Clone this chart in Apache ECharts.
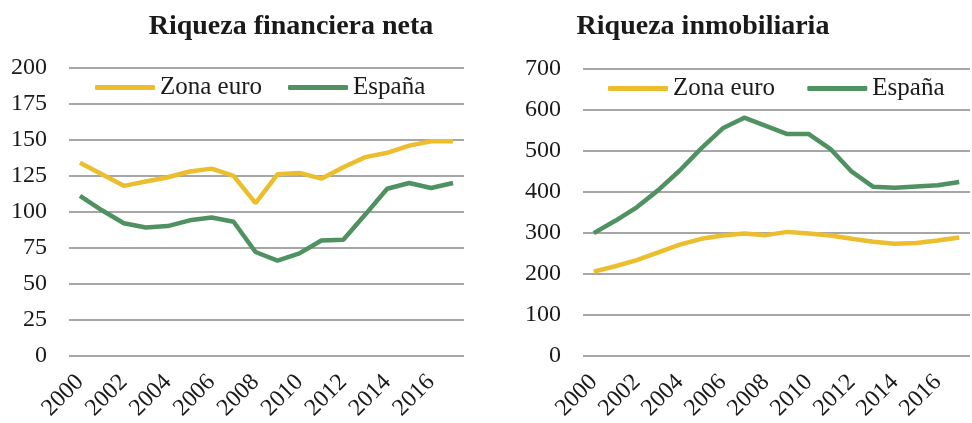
<!DOCTYPE html>
<html>
<head>
<meta charset="utf-8">
<script src="https://cdn.jsdelivr.net/npm/echarts@6/dist/echarts.min.js"></script>
<style>
  html, body { margin: 0; padding: 0; background: #fff; }
  #chart { width: 972px; height: 423px; }
</style>
</head>
<body>
<div id="chart"></div>
<script>
var years = ["2000", "2001", "2002", "2003", "2004", "2005", "2006", "2007", "2008",
  "2009", "2010", "2011", "2012", "2013", "2014", "2015", "2016", "2017"];

// Riqueza financiera neta
var financieraZonaEuro = [134, 126, 118, 121, 124, 128, 130, 125, 106, 126, 127, 123, 131, 138, 141, 146, 149, 149];
var financieraEspana = [111, 101, 92, 89, 90, 94, 96, 93, 72, 66, 71, 80, 80.5, 98, 116, 120, 116.5, 120];

// Riqueza inmobiliaria
var inmobiliariaZonaEuro = [205, 218, 233, 252, 271, 285, 293, 298, 294, 302, 298, 293, 285, 278, 273, 275, 281, 288];
var inmobiliariaEspana = [299, 329, 362, 404, 452, 506, 555, 581, 561, 541, 541, 505, 449, 412, 410, 413, 416, 424];

var amarillo = "#ECBD2C";
var verde = "#4F9160";
var serif = "Liberation Serif, Times New Roman, serif";

var myChart = echarts.init(document.getElementById("chart"));

function xAxisDe(gridIndex) {
  return {
    type: "category",
    gridIndex: gridIndex,
    data: years,
    boundaryGap: true,
    axisTick: { show: false },
    axisLine: { show: false },
    axisLabel: {
      interval: 1,
      rotate: 45,
      margin: 23,
      fontFamily: serif,
      fontSize: 24,
      color: "#1a1a1a",
    },
  };
}

function yAxisDe(gridIndex, max, interval) {
  return {
    type: "value",
    gridIndex: gridIndex,
    min: 0,
    max: max,
    interval: interval,
    axisLine: { show: false },
    axisTick: { show: false },
    axisLabel: {
      margin: 22,
      fontFamily: serif,
      fontSize: 24,
      color: "#1a1a1a",
    },
    splitLine: { lineStyle: { color: "#a6a6a6", width: 2 } },
  };
}

function serie(nombre, datos, color, idx) {
  return {
    name: nombre,
    type: "line",
    xAxisIndex: idx,
    yAxisIndex: idx,
    data: datos,
    symbol: "none",
    color: color,
    lineStyle: { color: color, width: 4.5 },
  };
}

function leyenda(left, top, nombres) {
  return {
    left: left,
    top: top,
    padding: 0,
    icon: "roundRect",
    itemWidth: 60,
    itemHeight: 5,
    itemGap: 26,
    textStyle: { fontFamily: serif, fontSize: 25, color: "#1a1a1a" },
    data: nombres,
    selectedMode: false,
  };
}

var option = {
  animation: false,
  title: [
    {
      text: "Riqueza financiera neta",
      left: 286,
      textAlign: "center",
      top: 8,
      textStyle: { fontFamily: serif, fontSize: 28, fontWeight: "bold", color: "#1a1a1a" },
    },
    {
      text: "Riqueza inmobiliaria",
      left: 698,
      textAlign: "center",
      top: 8,
      textStyle: { fontFamily: serif, fontSize: 28, fontWeight: "bold", color: "#1a1a1a" },
    },
  ],
  // el panel derecho usa nombres con espacio final para tener su propia leyenda
  legend: [
    leyenda(95, 75, ["Zona euro", "España"]),
    leyenda(608, 76, ["Zona euro ", "España "]),
  ],
  grid: [
    { left: 69, right: 508, top: 68, bottom: 66 },
    { left: 583, right: 2, top: 69, bottom: 64 },
  ],
  xAxis: [xAxisDe(0), xAxisDe(1)],
  yAxis: [yAxisDe(0, 200, 25), yAxisDe(1, 700, 100)],
  series: [
    serie("Zona euro", financieraZonaEuro, amarillo, 0),
    serie("España", financieraEspana, verde, 0),
    serie("Zona euro ", inmobiliariaZonaEuro, amarillo, 1),
    serie("España ", inmobiliariaEspana, verde, 1),
  ],
};

option && myChart.setOption(option);
</script>
</body>
</html>
